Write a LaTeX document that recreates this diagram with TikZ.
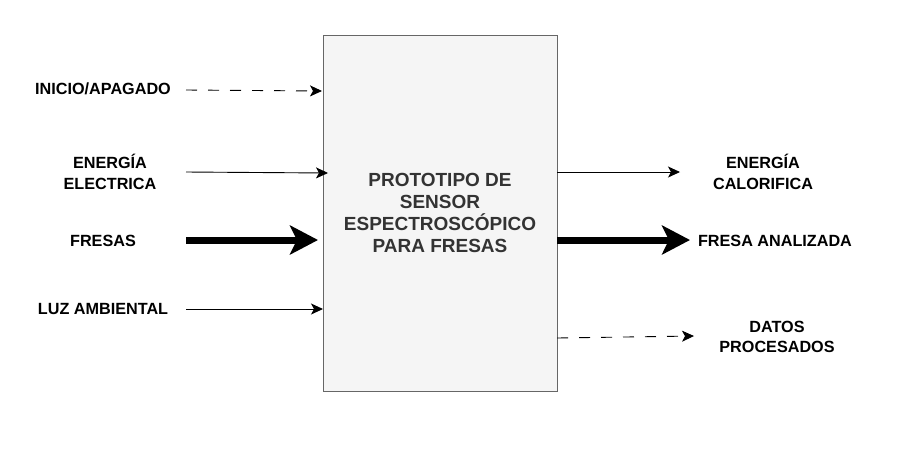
\documentclass[tikz,border=0pt]{standalone}
\usepackage{fontspec}
\setmainfont{Liberation Sans}
\usetikzlibrary{arrows.meta}
\definecolor{boxfill}{HTML}{F5F5F5}
\definecolor{boxline}{HTML}{666666}
\definecolor{boxtext}{HTML}{333333}
\begin{document}
\begin{tikzpicture}[x=1pt,y=-1pt,
  lbl/.style={font=\fontsize{16.2}{20.5}\selectfont\bfseries, align=center, inner sep=0pt, text=black},
  thin/.style={line width=0.9pt, -{Stealth[length=12pt,width=11pt,inset=3pt]}},
  thick/.style={line width=7pt, -{Stealth[length=28pt,width=29pt,inset=7pt]}},
  dashline/.style={dash pattern=on 11pt off 11pt}]
\useasboundingbox (0,0) rectangle (912,451);
\node[draw=boxline, fill=boxfill, line width=1pt, minimum width=234pt, minimum height=356pt, inner sep=0pt, anchor=north west] (box) at (323,35) {};
\node[font=\fontsize{19}{22}\selectfont\bfseries, text=boxtext, align=center] (title) at (440,213) {PROTOTIPO DE\\SENSOR\\ESPECTROSCÓPICO\\PARA FRESAS};
% left labels
\node[lbl] (inicio) at (103,89) {INICIO/APAGADO};
\node[lbl] (energia) at (110,172) {ENERGÍA\\ELECTRICA};
\node[lbl] (fresas) at (103,241) {FRESAS};
\node[lbl] (luz) at (103,309) {LUZ AMBIENTAL};
% right labels
\node[lbl] (calor) at (763,172) {ENERGÍA\\CALORIFICA};
\node[lbl] (analizada) at (775,241) {FRESA ANALIZADA};
\node[lbl] (datos) at (777,337) {DATOS\\PROCESADOS};
% coordinates
\coordinate (a1) at (186,90); \coordinate (b1) at (322,91);
\coordinate (a2) at (186,172); \coordinate (b2) at (328,173);
\coordinate (a3) at (186,240); \coordinate (b3) at (318,240);
\coordinate (a4) at (186,309); \coordinate (b4) at (323,309);
\coordinate (c1) at (557,172); \coordinate (d1) at (680,172);
\coordinate (c2) at (557,240); \coordinate (d2) at (690,240);
\coordinate (c3) at (557,338); \coordinate (d3) at (694,336);
\draw[thin, dashline] (a1) -- (b1);
\draw[thin] (a2) -- (b2);
\draw[thick] (a3) -- (b3);
\draw[thin] (a4) -- (b4);
\draw[thin] (c1) -- (d1);
\draw[thick] (c2) -- (d2);
\draw[thin, dashline] (c3) -- (d3);
\end{tikzpicture}
\end{document}
